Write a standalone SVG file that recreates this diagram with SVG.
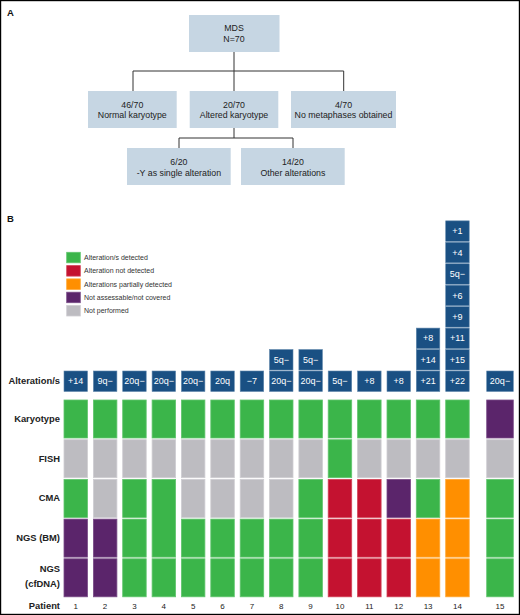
<svg xmlns="http://www.w3.org/2000/svg" width="520" height="615" viewBox="0 0 520 615">
<style>
text{font-family:"Liberation Sans",Arial,sans-serif;}
.bx{fill:#c6d6e3;}
.bt{font-size:8.8px;fill:#222;text-anchor:middle;}
.pl{font-size:9.5px;font-weight:bold;fill:#111;}
.lg{font-size:7px;fill:#333;}
.rl{font-size:9.4px;font-weight:bold;fill:#222;text-anchor:end;}
.pn{font-size:8px;fill:#222;text-anchor:middle;}
.nv{fill:#1a5083;stroke:#5f86ab;stroke-width:0.6;}
.nt{font-size:9px;fill:#fff;text-anchor:middle;}
.G{fill:#3bb54a;stroke:#62c56e;stroke-width:0.8;}
.Y{fill:#bdbcc1;stroke:#cfced2;stroke-width:0.8;}
.R{fill:#c41230;stroke:#d24457;stroke-width:0.8;}
.O{fill:#ff8f00;stroke:#ffa733;stroke-width:0.8;}
.P{fill:#5b256b;stroke:#7a4d88;stroke-width:0.8;}
.cn{fill:none;stroke:#333;stroke-width:1;}
</style>
<rect x="0.6" y="0.6" width="518.8" height="613.8" fill="#fff" stroke="#000" stroke-width="1.2"/>
<text class="pl" x="7" y="15.5">A</text>
<text class="pl" x="7" y="222">B</text>
<g id="connectors">
<path class="cn" d="M234 52V71M133 91V71H343.7V91M234 71V91M234 128V138M179 148V138H293V148"/>
</g>
<g id="n-mds"><rect class="bx" x="189" y="15" width="90.5" height="37"/><text class="bt" x="234" y="31.2">MDS</text><text class="bt" x="234" y="41.8">N=70</text></g>
<g id="n-normal"><rect class="bx" x="88" y="91" width="88.7" height="37"/><text class="bt" x="132.3" y="107.5">46/70</text><text class="bt" x="132.3" y="118.2">Normal karyotype</text></g>
<g id="n-altered"><rect class="bx" x="189.7" y="91" width="88.6" height="37"/><text class="bt" x="234" y="107.5">20/70</text><text class="bt" x="234" y="118.2">Altered karyotype</text></g>
<g id="n-nometa"><rect class="bx" x="291" y="91" width="105" height="37"/><text class="bt" x="343.5" y="107.5">4/70</text><text class="bt" x="343.5" y="118.2">No metaphases obtained</text></g>
<g id="n-y"><rect class="bx" x="127" y="148" width="103.7" height="37"/><text class="bt" x="178.9" y="164.9">6/20</text><text class="bt" x="178.9" y="175.5">-Y as single alteration</text></g>
<g id="n-other"><rect class="bx" x="241" y="148" width="103.7" height="37"/><text class="bt" x="292.9" y="164.9">14/20</text><text class="bt" x="292.9" y="175.5">Other alterations</text></g>
<g id="legend">
<rect class="G" x="66.7" y="252.3" width="13.6" height="10.5"/><text class="lg" x="84" y="260">Alteration/s detected</text>
<rect class="R" x="66.7" y="265.6" width="13.6" height="10.5"/><text class="lg" x="84" y="273.3">Alteration not detected</text>
<rect class="O" x="66.7" y="278.9" width="13.6" height="10.5"/><text class="lg" x="84" y="286.6">Alterations partially detected</text>
<rect class="P" x="66.7" y="292.2" width="13.6" height="10.5"/><text class="lg" x="84" y="299.9">Not assessable/not covered</text>
<rect class="Y" x="66.7" y="305.5" width="13.6" height="10.5"/><text class="lg" x="84" y="313.2">Not performed</text>
</g>
<g id="row-labels">
<text class="rl" x="60" y="384.3">Alteration/s</text>
<text class="rl" x="60" y="422.3">Karyotype</text>
<text class="rl" x="60" y="461.6">FISH</text>
<text class="rl" x="60" y="501">CMA</text>
<text class="rl" x="60" y="541">NGS (BM)</text>
<text class="rl" x="60" y="571.6">NGS</text>
<text class="rl" x="60" y="587.3">(cfDNA)</text>
<text class="rl" x="60" y="609">Patient</text>
</g>
<g id="alterations">
<rect class="nv" x="64" y="371" width="23.5" height="20.5"/><text class="nt" x="75.75" y="384.3">+14</text>
<rect class="nv" x="93.4" y="371" width="23.5" height="20.5"/><text class="nt" x="105.1" y="384.3">9q−</text>
<rect class="nv" x="122.7" y="371" width="23.5" height="20.5"/><text class="nt" x="134.5" y="384.3">20q−</text>
<rect class="nv" x="152.1" y="371" width="23.5" height="20.5"/><text class="nt" x="163.8" y="384.3">20q−</text>
<rect class="nv" x="181.4" y="371" width="23.5" height="20.5"/><text class="nt" x="193.2" y="384.3">20q−</text>
<rect class="nv" x="210.8" y="371" width="23.5" height="20.5"/><text class="nt" x="222.6" y="384.3">20q</text>
<rect class="nv" x="240.2" y="371" width="23.5" height="20.5"/><text class="nt" x="251.9" y="384.3">−7</text>
<rect class="nv" x="269.5" y="371" width="23.5" height="20.5"/><text class="nt" x="281.3" y="384.3">20q−</text>
<rect class="nv" x="269.5" y="349.55" width="23.5" height="20.5"/><text class="nt" x="281.3" y="362.85">5q−</text>
<rect class="nv" x="298.9" y="371" width="23.5" height="20.5"/><text class="nt" x="310.6" y="384.3">20q−</text>
<rect class="nv" x="298.9" y="349.55" width="23.5" height="20.5"/><text class="nt" x="310.6" y="362.85">5q−</text>
<rect class="nv" x="328.2" y="371" width="23.5" height="20.5"/><text class="nt" x="340" y="384.3">5q−</text>
<rect class="nv" x="357.6" y="371" width="23.5" height="20.5"/><text class="nt" x="369.4" y="384.3">+8</text>
<rect class="nv" x="387" y="371" width="23.5" height="20.5"/><text class="nt" x="398.7" y="384.3">+8</text>
<rect class="nv" x="416.3" y="371" width="23.5" height="20.5"/><text class="nt" x="428.1" y="384.3">+21</text>
<rect class="nv" x="416.3" y="349.55" width="23.5" height="20.5"/><text class="nt" x="428.1" y="362.85">+14</text>
<rect class="nv" x="416.3" y="328.1" width="23.5" height="20.5"/><text class="nt" x="428.1" y="341.4">+8</text>
<rect class="nv" x="445.7" y="371" width="23.5" height="20.5"/><text class="nt" x="457.4" y="384.3">+22</text>
<rect class="nv" x="445.7" y="349.55" width="23.5" height="20.5"/><text class="nt" x="457.4" y="362.85">+15</text>
<rect class="nv" x="445.7" y="328.1" width="23.5" height="20.5"/><text class="nt" x="457.4" y="341.4">+11</text>
<rect class="nv" x="445.7" y="306.65" width="23.5" height="20.5"/><text class="nt" x="457.4" y="319.95">+9</text>
<rect class="nv" x="445.7" y="285.2" width="23.5" height="20.5"/><text class="nt" x="457.4" y="298.5">+6</text>
<rect class="nv" x="445.7" y="263.75" width="23.5" height="20.5"/><text class="nt" x="457.4" y="277.05">5q−</text>
<rect class="nv" x="445.7" y="242.3" width="23.5" height="20.5"/><text class="nt" x="457.4" y="255.6">+4</text>
<rect class="nv" x="445.7" y="220.85" width="23.5" height="20.5"/><text class="nt" x="457.4" y="234.15">+1</text>
<rect class="nv" x="486.7" y="371" width="26.6" height="20.5"/><text class="nt" x="500" y="384.3">20q−</text>
</g>
<g id="row-karyotype">
<rect class="G" x="64" y="400" width="23.5" height="38"/><rect class="G" x="93.4" y="400" width="23.5" height="38"/><rect class="G" x="122.7" y="400" width="23.5" height="38"/><rect class="G" x="152.1" y="400" width="23.5" height="38"/><rect class="G" x="181.4" y="400" width="23.5" height="38"/><rect class="G" x="210.8" y="400" width="23.5" height="38"/><rect class="G" x="240.2" y="400" width="23.5" height="38"/><rect class="G" x="269.5" y="400" width="23.5" height="38"/><rect class="G" x="298.9" y="400" width="23.5" height="38"/><rect class="G" x="328.2" y="400" width="23.5" height="38"/><rect class="G" x="357.6" y="400" width="23.5" height="38"/><rect class="G" x="387" y="400" width="23.5" height="38"/><rect class="G" x="416.3" y="400" width="23.5" height="38"/><rect class="G" x="445.7" y="400" width="23.5" height="38"/><rect class="P" x="486.7" y="400" width="26.6" height="38"/>
</g>
<g id="row-fish">
<rect class="Y" x="64" y="439.7" width="23.5" height="38"/><rect class="Y" x="93.4" y="439.7" width="23.5" height="38"/><rect class="Y" x="122.7" y="439.7" width="23.5" height="38"/><rect class="Y" x="152.1" y="439.7" width="23.5" height="38"/><rect class="Y" x="181.4" y="439.7" width="23.5" height="38"/><rect class="Y" x="210.8" y="439.7" width="23.5" height="38"/><rect class="Y" x="240.2" y="439.7" width="23.5" height="38"/><rect class="Y" x="269.5" y="439.7" width="23.5" height="38"/><rect class="Y" x="298.9" y="439.7" width="23.5" height="38"/><rect class="G" x="328.2" y="439.7" width="23.5" height="38"/><rect class="Y" x="357.6" y="439.7" width="23.5" height="38"/><rect class="Y" x="387" y="439.7" width="23.5" height="38"/><rect class="Y" x="416.3" y="439.7" width="23.5" height="38"/><rect class="Y" x="445.7" y="439.7" width="23.5" height="38"/><rect class="Y" x="486.7" y="439.7" width="26.6" height="38"/>
</g>
<g id="row-cma">
<rect class="G" x="64" y="479.4" width="23.5" height="38"/><rect class="Y" x="93.4" y="479.4" width="23.5" height="38"/><rect class="G" x="122.7" y="479.4" width="23.5" height="38"/><rect class="G" x="152.1" y="479.4" width="23.5" height="77.7"/><rect class="Y" x="181.4" y="479.4" width="23.5" height="38"/><rect class="Y" x="210.8" y="479.4" width="23.5" height="38"/><rect class="Y" x="240.2" y="479.4" width="23.5" height="38"/><rect class="Y" x="269.5" y="479.4" width="23.5" height="38"/><rect class="G" x="298.9" y="479.4" width="23.5" height="38"/><rect class="R" x="328.2" y="479.4" width="23.5" height="38"/><rect class="R" x="357.6" y="479.4" width="23.5" height="38"/><rect class="P" x="387" y="479.4" width="23.5" height="38"/><rect class="G" x="416.3" y="479.4" width="23.5" height="38"/><rect class="O" x="445.7" y="479.4" width="23.5" height="38"/><rect class="G" x="486.7" y="479.4" width="26.6" height="38"/>
</g>
<g id="row-ngs-bm">
<rect class="P" x="64" y="519.1" width="23.5" height="38"/><rect class="P" x="93.4" y="519.1" width="23.5" height="38"/><rect class="G" x="122.7" y="519.1" width="23.5" height="38"/><rect class="G" x="181.4" y="519.1" width="23.5" height="38"/><rect class="G" x="210.8" y="519.1" width="23.5" height="38"/><rect class="G" x="240.2" y="519.1" width="23.5" height="38"/><rect class="G" x="269.5" y="519.1" width="23.5" height="38"/><rect class="G" x="298.9" y="519.1" width="23.5" height="38"/><rect class="R" x="328.2" y="519.1" width="23.5" height="38"/><rect class="R" x="357.6" y="519.1" width="23.5" height="38"/><rect class="R" x="387" y="519.1" width="23.5" height="38"/><rect class="O" x="416.3" y="519.1" width="23.5" height="38"/><rect class="O" x="445.7" y="519.1" width="23.5" height="38"/><rect class="G" x="486.7" y="519.1" width="26.6" height="38"/>
</g>
<g id="row-ngs-cfdna">
<rect class="P" x="64" y="558.8" width="23.5" height="38"/><rect class="P" x="93.4" y="558.8" width="23.5" height="38"/><rect class="G" x="122.7" y="558.8" width="23.5" height="38"/><rect class="G" x="152.1" y="558.8" width="23.5" height="38"/><rect class="G" x="181.4" y="558.8" width="23.5" height="38"/><rect class="G" x="210.8" y="558.8" width="23.5" height="38"/><rect class="G" x="240.2" y="558.8" width="23.5" height="38"/><rect class="G" x="269.5" y="558.8" width="23.5" height="38"/><rect class="G" x="298.9" y="558.8" width="23.5" height="38"/><rect class="R" x="328.2" y="558.8" width="23.5" height="38"/><rect class="R" x="357.6" y="558.8" width="23.5" height="38"/><rect class="R" x="387" y="558.8" width="23.5" height="38"/><rect class="O" x="416.3" y="558.8" width="23.5" height="38"/><rect class="O" x="445.7" y="558.8" width="23.5" height="38"/><rect class="G" x="486.7" y="558.8" width="26.6" height="38"/>
</g>
<g id="patients">
<text class="pn" x="75.75" y="609">1</text><text class="pn" x="105.1" y="609">2</text><text class="pn" x="134.5" y="609">3</text><text class="pn" x="163.8" y="609">4</text><text class="pn" x="193.2" y="609">5</text><text class="pn" x="222.6" y="609">6</text><text class="pn" x="251.9" y="609">7</text><text class="pn" x="281.3" y="609">8</text><text class="pn" x="310.6" y="609">9</text><text class="pn" x="340" y="609">10</text><text class="pn" x="369.4" y="609">11</text><text class="pn" x="398.7" y="609">12</text><text class="pn" x="428.1" y="609">13</text><text class="pn" x="457.4" y="609">14</text><text class="pn" x="500" y="609">15</text>
</g>
</svg>
